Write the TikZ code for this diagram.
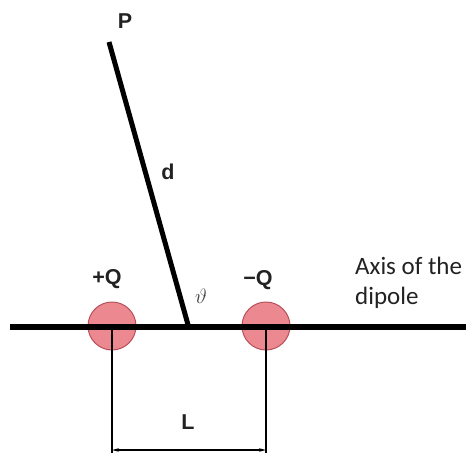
\documentclass[tikz,border=0pt]{standalone}
\usepackage{fontspec}
\setmainfont{Liberation Sans}
\newfontfamily\carlito{Carlito}
\usetikzlibrary{arrows.meta}
\definecolor{chargefill}{HTML}{EC8890}
\definecolor{chargedraw}{HTML}{B8505C}
\definecolor{txt}{HTML}{222222}
\tikzset{
  lbl/.style={font=\bfseries\fontsize{21.5}{24}\selectfont, inner sep=0pt, text=txt},
  axlbl/.style={font=\carlito\fontsize{25}{30}\selectfont, inner sep=0pt, anchor=base west, text=txt},
  charge/.style={circle, minimum size=48pt, inner sep=0pt, fill=chargefill, draw=chargedraw, line width=1pt},
  thick line/.style={line width=5pt},
  guide/.style={line width=1.2pt}
}
\begin{document}
\begin{tikzpicture}[x=1pt,y=1pt]
\useasboundingbox (0,0) rectangle (473,456);
% charges
\node[charge] (pq) at (112,130) {};
\node[charge] (nq) at (266,130) {};
% axis
\coordinate (axL) at (10,129.5);
\coordinate (axR) at (466,129.5);
\draw[line width=6pt] (axL) -- (axR);
% line to P
\coordinate (P0) at (109,414);
\coordinate (O) at (188.5,129.5);
\draw[thick line] (P0) -- (O);
% dimension lines
\coordinate (a1) at (112,3);
\coordinate (a2) at (266,3);
\coordinate (b1) at (112,6);
\coordinate (b2) at (266,6);
\draw[guide] (pq.center) -- (a1);
\draw[guide] (nq.center) -- (a2);
\draw[guide, {Stealth[length=7pt,width=3.5pt]}-{Stealth[length=7pt,width=3.5pt]}] (b1) -- (b2);
% labels
\node[lbl] (lP) at (125,435) {P};
\node[lbl] (ld) at (168,284) {d};
\node[lbl] (lpq) at (107,177) {+Q};
\node[lbl] (lnq) at (258,176) {\symbol{"2212}Q};
\node[lbl] (lL) at (188,34) {L};
\node[inner sep=0pt, text=txt!85, font=\fontsize{20}{22}\selectfont] (lt) at (201,160) {$\vartheta$};
\node[axlbl] (lax1) at (355,182) {Axis of the};
\node[axlbl] (lax2) at (355,152) {dipole};
\end{tikzpicture}
\end{document}
